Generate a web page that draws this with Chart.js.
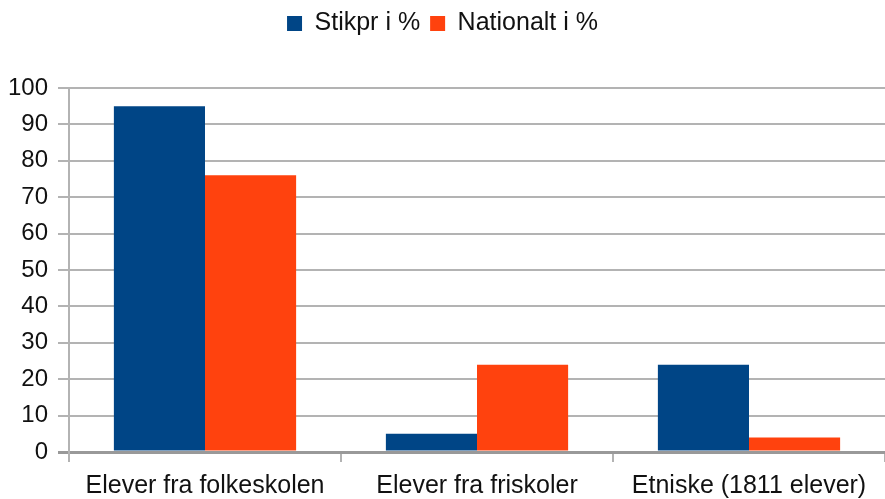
<!DOCTYPE html>
<html>
<head>
<meta charset="utf-8">
<script src="https://cdn.jsdelivr.net/npm/chart.js@4/dist/chart.umd.min.js"></script>
<style>
  html, body { margin: 0; padding: 0; background: #ffffff; }
  #wrap { width: 885px; height: 499px; position: relative; }
</style>
</head>
<body>
<div id="wrap"><canvas id="chart"></canvas></div>
<script>
// Data
const categories = ['Elever fra folkeskolen', 'Elever fra friskoler', 'Etniske (1811 elever)'];
const stikprValues = [95, 5, 24];
const nationaltValues = [76, 24, 4];
const yTicks = [0, 10, 20, 30, 40, 50, 60, 70, 80, 90, 100];

const FONT = '"Liberation Sans", Arial, sans-serif';

// extra space under the legend, like the original
const legendMargin = {
    id: 'legendMargin',
    beforeInit(chart) {
        const origFit = chart.legend.fit;
        chart.legend.fit = function () {
            origFit.bind(chart.legend)();
            this.height += 42;
        };
    }
};

const ctx = document.getElementById('chart').getContext('2d');
const chart = new Chart(ctx, {
    type: 'bar',
    data: {
        labels: categories,
        datasets: [
            {
                label: 'Stikpr i %',
                data: stikprValues,
                backgroundColor: '#004586',
                borderWidth: 0
            },
            {
                label: 'Nationalt i %',
                data: nationaltValues,
                backgroundColor: '#ff420e',
                borderWidth: 0
            }
        ]
    },
    options: {
        responsive: true,
        maintainAspectRatio: false,
        animation: false,
        layout: { padding: { top: 1, right: 0, left: 0, bottom: 0 } },
        datasets: {
            bar: { categoryPercentage: 0.67, barPercentage: 1.0 }
        },
        plugins: {
            legend: {
                position: 'top',
                labels: {
                    color: '#111111',
                    font: { family: FONT, size: 25 },
                    boxWidth: 15,
                    boxHeight: 15,
                    padding: 10
                }
            },
            tooltip: { enabled: false }
        },
        scales: {
            x: {
                afterFit: function (scale) { scale.height = 47; },
                grid: {
                    offset: true,
                    drawOnChartArea: false,
                    drawTicks: true,
                    tickLength: 10,
                    color: '#b3b3b3',
                    lineWidth: 2
                },
                border: { display: false },
                ticks: {
                    color: '#111111',
                    font: { family: FONT, size: 25 },
                    padding: 9,
                    maxRotation: 0
                }
            },
            y: {
                min: 0,
                max: 100,
                afterFit: function (scale) { scale.width = 69; },
                afterBuildTicks: function (scale) {
                    scale.ticks = yTicks.map(v => ({ value: v }));
                },
                grid: {
                    color: ctx => ctx.tick && ctx.tick.value === 0 ? '#999999' : '#b3b3b3',
                    lineWidth: ctx => ctx.tick && ctx.tick.value === 0 ? 3 : 2,
                    tickLength: 11
                },
                border: { display: true, color: '#b3b3b3', width: 2 },
                ticks: {
                    color: '#111111',
                    font: { family: FONT, size: 24 },
                    padding: 10
                }
            }
        }
    },
    plugins: [legendMargin]
});
</script>
</body>
</html>
